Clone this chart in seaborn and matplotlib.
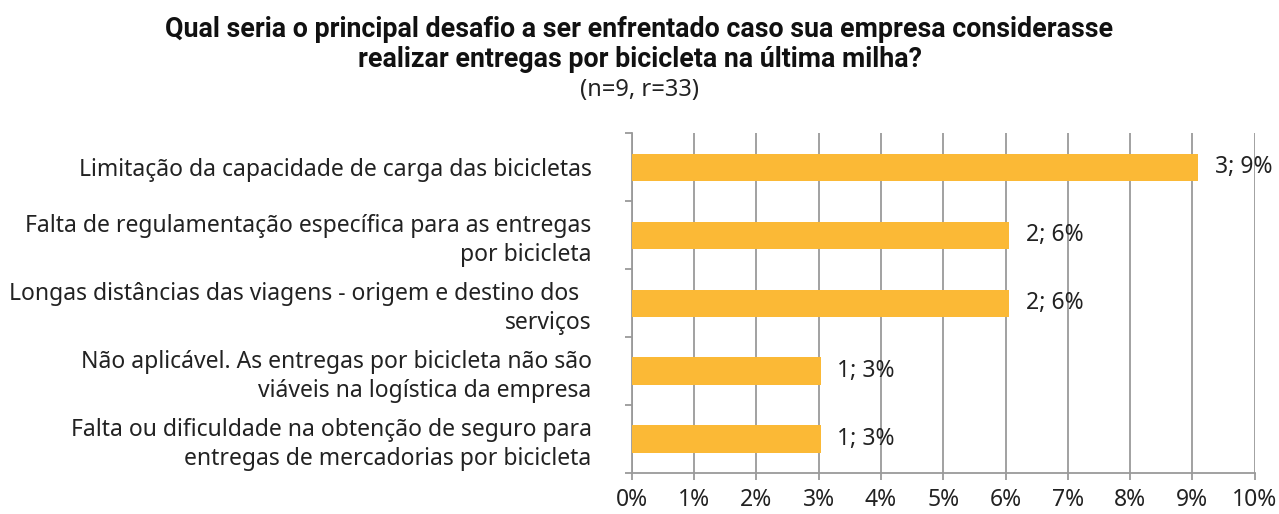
import matplotlib
matplotlib.use("Agg")
import matplotlib.pyplot as plt
import seaborn as sns
import pandas as pd
import numpy as np

# Survey answers (multiple choice): n = respondents, r = total responses
categories = [
    "Limitação da capacidade de carga das bicicletas",
    "Falta de regulamentação específica para as entregas\npor bicicleta",
    "Longas distâncias das viagens - origem e destino dos  \nserviços",
    "Não aplicável. As entregas por bicicleta não são\nviáveis na logística da empresa",
    "Falta ou dificuldade na obtenção de seguro para\nentregas de mercadorias por bicicleta",
]
counts = [3, 2, 2, 1, 1]
total_responses = 33
n_respondents = 9
x_ticks = [0, 1, 2, 3, 4, 5, 6, 7, 8, 9, 10]

df = pd.DataFrame({"categoria": categories, "respostas": counts})
df["pct"] = df["respostas"] / total_responses * 100

sns.set_theme(style="white")
plt.rcParams["font.family"] = ["Noto Sans", "DejaVu Sans"]

fig = plt.figure(figsize=(12.79, 5.14), dpi=100)
ax = fig.add_axes([0.494, 0.0798, 0.487, 0.661])

sns.barplot(data=df, y="categoria", x="pct", orient="h", color="#FBB936",
            saturation=1, width=0.4, linewidth=0, ax=ax, zorder=3)

ax.set_xlim(0, 10)
ax.set_ylim(len(categories) - 0.5, -0.5)
ax.set_xticks(x_ticks)
ax.set_xticklabels([f"{t}%" for t in x_ticks], fontsize=16.5, color="#222222")
ax.set_xlabel("")
ax.set_ylabel("")

# vertical gridlines
ax.grid(axis="x", color="#9a9a9a", linewidth=1.3, zorder=0)
ax.grid(axis="y", visible=False)

for side in ["top", "right"]:
    ax.spines[side].set_visible(False)
for side in ["left", "bottom"]:
    ax.spines[side].set_color("#9a9a9a")
    ax.spines[side].set_linewidth(1.3)

# category labels at bar centres, tick marks at category boundaries
ax.set_yticks(range(len(categories)))
ax.set_yticklabels(categories, fontsize=16.5, color="#222222", linespacing=1.25)
ax.tick_params(axis="y", which="major", length=0, pad=29)
ax.set_yticks(np.arange(-0.5, len(categories), 1), minor=True)
ax.tick_params(axis="y", which="minor", length=5, width=1.3, color="#9a9a9a", left=True)
ax.tick_params(axis="x", which="major", length=5, width=1.3, color="#9a9a9a",
               bottom=True, pad=6)

# value labels: "count; percent"
for i, (c, p) in enumerate(zip(df["respostas"], df["pct"])):
    ax.text(p + 0.27, i, f"{c}; {round(p)}%", va="center", ha="left",
            fontsize=16.5, color="#222222", zorder=4)

fig.text(0.5, 0.914,
         "Qual seria o principal desafio a ser enfrentado caso sua empresa considerasse\n"
         "realizar entregas por bicicleta na última milha?",
         ha="center", va="center", fontsize=19.3, fontweight="bold",
         family=["Roboto", "DejaVu Sans"], linespacing=1.13, color="#111111")
fig.text(0.5, 0.825, f"(n={n_respondents}, r={total_responses})",
         ha="center", va="center", fontsize=17, color="#222222")

fig.savefig("out.png", dpi=100, facecolor="white")
